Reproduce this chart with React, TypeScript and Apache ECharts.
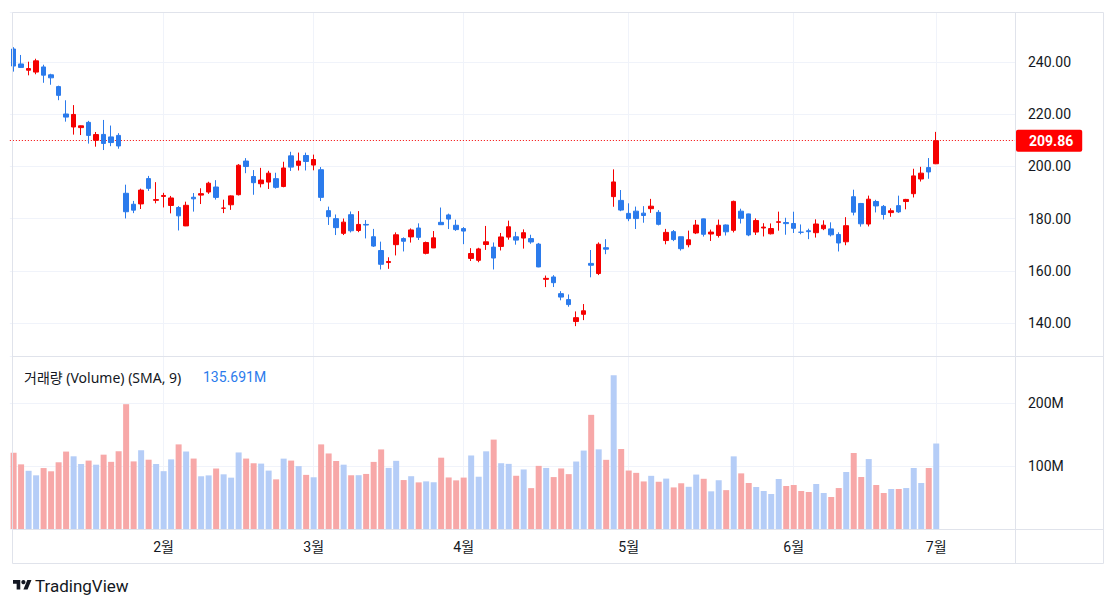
import React, { useEffect, useRef } from 'react';
import * as echarts from 'echarts';

// ---------- data (TSLA daily, 2024-01-03 .. 2024-07-01) ----------
const dates = [
  '01-03','01-04','01-05','01-08','01-09','01-10','01-11','01-12','01-16','01-17','01-18','01-19','01-22','01-23','01-24','01-25','01-26','01-29','01-30','01-31',
  '02-01','02-02','02-05','02-06','02-07','02-08','02-09','02-12','02-13','02-14','02-15','02-16','02-20','02-21','02-22','02-23','02-26','02-27','02-28','02-29',
  '03-01','03-04','03-05','03-06','03-07','03-08','03-11','03-12','03-13','03-14','03-15','03-18','03-19','03-20','03-21','03-22','03-25','03-26','03-27','03-28',
  '04-01','04-02','04-03','04-04','04-05','04-08','04-09','04-10','04-11','04-12','04-15','04-16','04-17','04-18','04-19','04-22','04-23','04-24','04-25','04-26','04-29','04-30',
  '05-01','05-02','05-03','05-06','05-07','05-08','05-09','05-10','05-13','05-14','05-15','05-16','05-17','05-20','05-21','05-22','05-23','05-24','05-28','05-29','05-30','05-31',
  '06-03','06-04','06-05','06-06','06-07','06-10','06-11','06-12','06-13','06-14','06-17','06-18','06-20','06-21','06-24','06-25','06-26','06-27','06-28',
  '07-01',
];

const opens = [
  244.98,239.25,236.86,236.14,238.11,235.10,230.57,220.08,215.10,214.86,216.88,209.99,212.26,211.30,211.88,189.70,185.50,185.63,195.33,187.00,
  188.50,185.04,184.26,177.21,188.18,189.00,190.18,192.11,183.99,185.30,189.16,202.06,196.13,193.36,194.00,195.31,192.29,204.04,200.42,204.18,
  200.52,198.73,183.05,179.99,174.35,181.50,175.45,177.77,173.05,167.77,163.16,170.02,172.36,173.00,176.39,166.69,168.76,178.58,181.41,177.45,
  176.17,164.75,164.02,170.07,169.08,169.34,172.91,173.04,172.55,172.34,170.24,156.74,157.64,151.25,148.97,140.56,143.33,162.84,158.96,168.85,188.42,186.98,
  182.00,182.86,182.10,183.80,182.40,171.59,175.01,173.05,170.00,174.50,179.90,174.10,173.55,177.56,175.51,182.85,181.80,174.84,176.40,174.19,178.58,178.50,
  178.13,174.78,175.35,174.60,176.13,176.06,173.92,171.12,188.39,185.80,177.92,186.56,184.68,182.30,184.97,186.54,189.55,195.17,199.55,
  201.02,
];
const highs = [
  245.68,242.70,240.12,241.25,238.96,235.50,230.93,225.34,223.49,215.67,217.45,213.19,217.80,215.65,212.73,193.00,186.78,191.48,196.36,193.97,
  189.88,188.69,184.81,186.49,189.79,191.62,194.12,194.73,187.26,188.89,200.88,203.17,198.60,199.44,198.32,197.57,201.78,205.60,205.30,205.28,
  204.52,199.75,184.59,181.58,180.04,182.73,182.87,179.43,176.05,171.17,165.18,174.72,172.82,176.25,178.18,171.20,175.24,184.25,181.91,179.57,
  176.75,168.69,168.82,177.19,170.86,174.50,179.22,174.93,175.88,173.81,170.69,158.19,158.33,152.20,150.94,144.44,147.26,167.97,170.88,172.12,198.87,190.95,
  185.86,184.60,184.78,187.56,183.26,176.06,175.62,173.06,175.40,179.49,180.00,175.79,179.63,177.75,186.88,183.80,181.90,180.08,178.25,178.15,182.67,180.32,
  182.64,177.76,176.15,179.73,179.35,178.57,174.75,180.55,191.08,186.00,188.81,187.20,185.21,183.95,188.80,187.56,199.10,199.84,203.20,
  213.23,
];
const lows = [
  236.32,237.73,234.90,235.30,232.04,231.29,225.37,217.15,212.18,212.01,208.74,207.56,206.27,207.75,206.77,180.06,182.10,183.67,190.61,185.85,
  184.28,182.00,175.46,177.11,182.68,185.58,189.48,187.28,182.11,183.35,188.86,197.40,189.13,191.95,191.36,191.50,192.00,198.26,198.44,198.45,
  198.50,186.72,177.57,173.70,173.70,174.70,174.80,172.41,169.15,160.51,160.76,165.90,167.42,170.82,171.80,166.30,168.73,177.61,176.00,175.30,
  170.21,163.75,163.28,168.01,160.51,167.79,171.92,170.01,168.51,170.36,161.38,153.75,153.78,148.70,146.22,138.80,141.11,157.51,158.36,166.37,184.54,182.84,
  179.01,176.02,178.42,182.20,177.40,170.15,171.37,167.75,169.00,174.07,173.11,171.43,172.75,173.52,174.71,178.12,173.26,173.73,173.16,173.93,175.38,173.82,
  174.49,174.00,172.13,172.73,175.58,173.17,167.41,169.80,181.23,176.92,177.00,182.37,179.66,180.69,182.16,183.55,188.10,194.20,195.26,
  200.85,
];
const closes = [
  238.45,237.93,237.49,240.45,234.96,233.94,227.22,218.89,219.91,215.55,211.88,212.19,208.80,209.14,207.83,182.63,183.25,190.93,191.59,187.29,
  188.86,187.91,181.06,185.10,187.58,189.56,193.57,188.13,184.02,188.71,200.45,199.95,193.76,194.77,197.41,191.97,199.40,199.73,202.04,201.88,
  202.64,188.14,180.74,176.54,178.65,175.34,177.77,177.54,169.48,162.50,163.57,173.80,171.32,175.66,172.82,170.83,172.63,177.67,179.83,175.79,
  175.22,166.63,168.38,171.11,164.90,172.98,176.88,171.76,174.60,171.05,161.48,157.11,155.45,149.93,147.05,142.05,144.68,162.13,170.18,168.29,194.05,183.28,
  179.99,180.01,181.19,184.76,177.81,174.72,171.97,168.47,171.89,177.55,173.99,174.84,177.46,174.95,186.60,180.11,173.74,179.24,176.75,176.19,178.79,178.08,
  176.29,174.77,175.00,177.94,177.48,173.79,170.66,177.29,182.47,178.01,187.44,184.86,181.57,183.01,182.58,187.35,196.37,197.42,197.88,
  209.86,
];
// volume in millions
const volumes = [
  121.1,102.6,92.4,85.2,96.7,91.6,105.9,122.9,115.4,103.2,108.6,102.1,118.0,106.6,123.4,198.1,107.3,125.0,110.0,103.2,
  91.8,110.5,134.3,123.0,111.8,83.7,85.1,96.0,86.8,81.5,121.5,111.8,104.2,103.8,92.7,78.8,111.7,108.6,99.8,85.9,
  82.1,134.3,119.9,107.9,102.1,85.3,85.4,87.4,106.5,126.3,97.0,108.2,77.7,83.8,74.0,75.6,74.2,113.2,81.8,77.2,
  81.6,116.7,83.0,123.3,141.9,104.4,103.4,84.5,94.5,64.9,100.2,96.9,82.4,96.1,87.1,107.1,124.5,181.2,126.4,109.8,243.9,127.0,
  92.8,89.1,75.5,84.4,75.0,80.0,66.0,72.6,67.0,86.4,79.7,59.8,77.4,61.7,115.3,88.3,73.0,66.7,60.3,55.6,79.4,68.3,
  69.8,60.3,58.7,71.4,57.1,50.8,65.0,90.5,120.6,82.5,111.0,69.8,57.1,63.5,63.5,65.0,96.8,73.0,96.8,
  135.691,
];

const lastPrice = 209.86;
const lastVolume = 135.691;
const monthStarts = ['02-01', '03-01', '04-01', '05-01', '06-03', '07-01'];
const monthLabels = ['2월', '3월', '4월', '5월', '6월', '7월'];
const volumeTitle = '거래량 (Volume) (SMA, 9)';
const volumeTitleValue = '135.691M';

// ---------- styles ----------
const FONT = 'Roboto, "Noto Sans CJK KR", sans-serif';
const LEGEND_FONT = '"Noto Sans", "Noto Sans CJK KR", sans-serif';
const TEXT = '#131722';
const UP = '#F50000';
const DOWN = '#2B7BEC';
const VOL_OF_UP = '#B5CDF7';
const VOL_OF_DOWN = '#F7A8A8';
const GRID = '#F0F3FA';
const BORDER = '#E0E3EB';
const LABEL_RED = '#FF0000';
const LABEL_BLUE = '#2B7BEC';

const TV_LOGO_D = 'M14 22H7V11H0V4h14v18zM28 22h-8l7.5-18h8L28 22z';
let logoRegistered = false;
function registerLogo() {
  if (logoRegistered) return;
  echarts.graphic.registerShape('tvLogo', echarts.graphic.extendPath(TV_LOGO_D, {}));
  logoRegistered = true;
}

export default function App() {
  const ref = useRef<HTMLDivElement>(null);

  useEffect(() => {
    if (!ref.current) return;
    registerLogo();
    const chart = echarts.init(ref.current, null, { renderer: 'svg' });

    const candleData = dates.map((_, i) => [opens[i], closes[i], lows[i], highs[i]]);
    const volData = dates.map((_, i) => ({
      value: volumes[i],
      itemStyle: { color: closes[i] > opens[i] ? VOL_OF_UP : VOL_OF_DOWN },
    }));
    const monthIdx = monthStarts.map((m) => dates.indexOf(m));
    const vLines = monthIdx.map((i) => ({
      xAxis: i,
      lineStyle: { color: GRID, type: 'solid', width: 1 },
      label: { show: false },
    }));

    const gridLeft = 9.85;
    const gridWidth = 1005.15;
    const lastIndex = 133;

    const option: any = {
      animation: false,
      backgroundColor: '#ffffff',
      textStyle: { fontFamily: FONT },
      grid: [
        { left: gridLeft, width: gridWidth, top: 12, height: 344 },
        { left: gridLeft, width: gridWidth, top: 356, height: 173 },
      ],
      xAxis: [
        {
          type: 'category', gridIndex: 0, data: dates, max: lastIndex, boundaryGap: true,
          axisLine: { show: false }, axisTick: { show: false }, axisLabel: { show: false }, splitLine: { show: false },
        },
        {
          type: 'category', gridIndex: 1, data: dates, max: lastIndex, boundaryGap: true,
          axisLine: { show: false }, axisTick: { show: false }, splitLine: { show: false },
          axisLabel: {
            interval: (_idx: number, val: string) => monthStarts.includes(val),
            formatter: (val: string) => {
              const k = monthStarts.indexOf(val);
              return k >= 0 ? monthLabels[k] : '';
            },
            color: TEXT, fontSize: 14, margin: 11, fontFamily: FONT,
          },
        },
      ],
      yAxis: [
        {
          type: 'value', gridIndex: 0, position: 'right', min: 127.36, max: 259.16, splitNumber: 7,
          axisLine: { show: false }, axisTick: { show: false },
          axisLabel: {
            showMinLabel: false, showMaxLabel: false, margin: 13, color: TEXT, fontSize: 14, fontFamily: FONT,
            formatter: (v: number) => (Math.abs(v % 20) < 1e-6 ? v.toFixed(2) : ''),
          },
          splitLine: { lineStyle: { color: GRID, width: 1 } },
        },
        {
          type: 'value', gridIndex: 1, position: 'right', min: 0, max: 274.6, interval: 100,
          axisLine: { show: false }, axisTick: { show: false },
          axisLabel: {
            showMinLabel: false, showMaxLabel: false, margin: 13, color: TEXT, fontSize: 14, fontFamily: FONT,
            formatter: (v: number) => (v > 0 && v % 100 === 0 ? `${v}M` : ''),
          },
          splitLine: { lineStyle: { color: GRID, width: 1 } },
        },
      ],
      series: [
        {
          type: 'candlestick', xAxisIndex: 0, yAxisIndex: 0, data: candleData, barWidth: 5, z: 3,
          itemStyle: { color: UP, color0: DOWN, borderColor: UP, borderColor0: DOWN, borderWidth: 1 },
          markLine: {
            silent: true, symbol: ['none', 'none'], z: 1, animation: false,
            data: [
              ...vLines,
              {
                yAxis: lastPrice,
                lineStyle: { color: UP, type: [1, 2], width: 1 },
                label: {
                  show: true, position: 'end', distance: 1, formatter: lastPrice.toFixed(2),
                  color: '#ffffff', backgroundColor: LABEL_RED, padding: [4, 9, 4, 13],
                  fontSize: 14, fontWeight: 'bold', fontFamily: FONT, borderRadius: 2,
                },
              },
            ],
          },
        },
        {
          type: 'bar', xAxisIndex: 1, yAxisIndex: 1, data: volData, barWidth: 6, z: 3,
          markLine: {
            silent: true, symbol: ['none', 'none'], z: 1, animation: false,
            data: [
              ...vLines,
              {
                yAxis: lastVolume,
                lineStyle: { opacity: 0, width: 0 },
                label: {
                  show: true, position: 'end', distance: 1, formatter: `${lastVolume.toFixed(3)}M`,
                  color: '#ffffff', backgroundColor: LABEL_BLUE, padding: [4, 8, 4, 13],
                  fontSize: 14, fontWeight: 'bold', fontFamily: FONT, borderRadius: 2,
                },
              },
            ],
          },
        },
      ],
      graphic: [
        { type: 'rect', z: 20, silent: true, shape: { x: 12.5, y: 12.5, width: 1091, height: 551 }, style: { fill: 'none', stroke: BORDER, lineWidth: 1 } },
        { type: 'line', z: 20, silent: true, shape: { x1: 1015.5, y1: 12, x2: 1015.5, y2: 564 }, style: { stroke: BORDER, lineWidth: 1 } },
        { type: 'line', z: 20, silent: true, shape: { x1: 12, y1: 356.5, x2: 1104, y2: 356.5 }, style: { stroke: BORDER, lineWidth: 1 } },
        { type: 'line', z: 20, silent: true, shape: { x1: 12, y1: 529.5, x2: 1104, y2: 529.5 }, style: { stroke: BORDER, lineWidth: 1 } },
        { type: 'text', z: 20, silent: true, style: { text: volumeTitle, x: 24, y: 377, verticalAlign: 'middle', fill: TEXT, font: `14px ${LEGEND_FONT}` } },
        { type: 'text', z: 20, silent: true, style: { text: volumeTitleValue, x: 203, y: 377, verticalAlign: 'middle', fill: LABEL_BLUE, font: `14px ${FONT}` } },
        { type: 'tvLogo', z: 20, silent: true, x: 13, y: 578, scaleX: 0.52, scaleY: 0.52, style: { fill: TEXT } },
        { type: 'circle', z: 20, silent: true, shape: { cx: 13 + 20 * 0.52, cy: 578 + 8 * 0.52, r: 4 * 0.52 }, style: { fill: TEXT } },
        { type: 'text', z: 20, silent: true, style: { text: 'TradingView', x: 35, y: 586, verticalAlign: 'middle', fill: TEXT, font: `17px ${FONT}` } },
      ],
    };

    chart.setOption(option);
    return () => chart.dispose();
  }, []);

  return (
    <div
      ref={ref}
      style={{ position: 'absolute', left: 0, top: 0, width: 1118, height: 609, background: '#ffffff' }}
    />
  );
}
